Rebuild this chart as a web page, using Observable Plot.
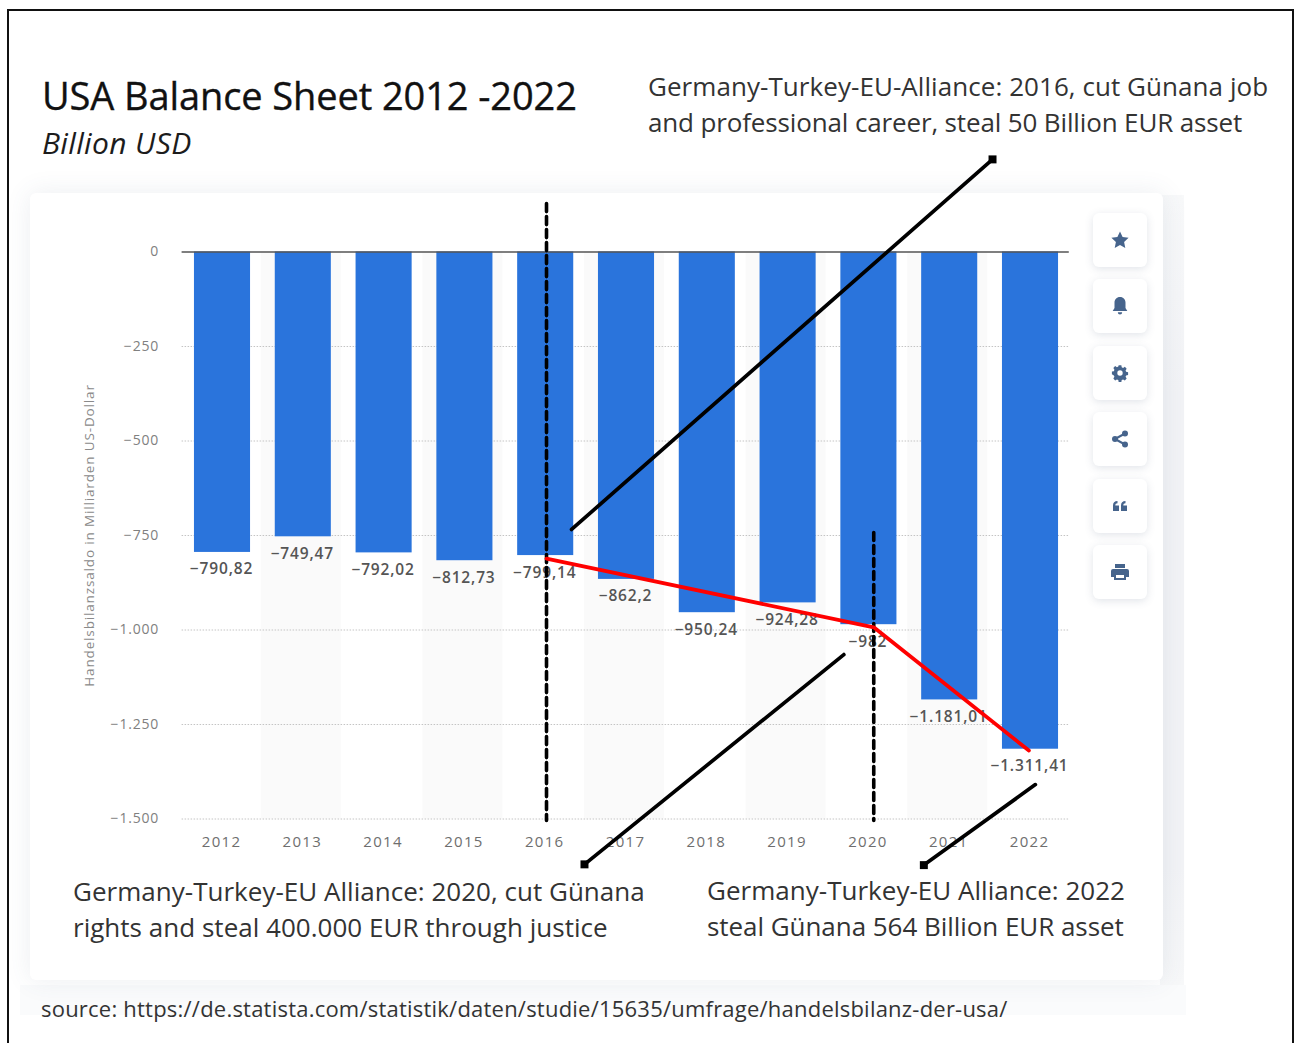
<!DOCTYPE html>
<html><head><meta charset="utf-8">
<script src="https://cdn.jsdelivr.net/npm/d3@7"></script>
<script src="https://cdn.jsdelivr.net/npm/@observablehq/plot@0.6"></script>
<style>
html,body{margin:0;padding:0;background:#fff;overflow:hidden}
body{width:1294px;height:1043px;position:relative;font-family:"Open Sans",sans-serif}
.frame{position:absolute;left:7px;top:9px;width:1287px;height:1040px;border:2px solid #111;box-sizing:border-box;border-bottom:none}
.strip{position:absolute}
.card{position:absolute;left:30px;top:193px;width:1133px;height:787px;background:#fff;border-radius:6px;box-shadow:0 0 26px rgba(70,90,120,.10)}
.btn{position:absolute;left:1093px;width:54px;height:54px;background:#fff;border-radius:6px;box-shadow:0 2px 8px rgba(70,90,120,.16);display:flex;align-items:center;justify-content:center}
.btn svg{width:20px;height:20px;fill:#46648c}
.t{position:absolute;color:#1c1c1c;white-space:pre;line-height:1}
.note{font-size:26px;line-height:36px;color:#333;letter-spacing:.02px}
#chart{position:absolute;left:0;top:0}
#chart svg{background:transparent;display:block}
.tk text{letter-spacing:.8px}
.yr text{letter-spacing:1.3px}
.vl text{letter-spacing:.85px}
.ax text{letter-spacing:.85px}
</style></head><body>
<div class="strip" style="left:20px;top:985px;width:1166px;height:30px;background:#fafbfc"></div>
<div class="strip" style="left:1160px;top:195px;width:24px;height:790px;background:linear-gradient(#f8f9fa,#f2f3f6 25%,#f2f3f6 85%,#f7f8f9)"></div>
<div class="card"></div>
<div class="frame"></div>
<div id="buttons"></div>
<div id="chart"></div>
<div class="t" style="left:42px;top:76px;font-size:38px;letter-spacing:-.1px;-webkit-text-stroke:.35px #111;color:#111">USA Balance Sheet 2012 -2022</div>
<div class="t" style="left:42px;top:128px;font-size:30px;font-style:italic;letter-spacing:.35px">Billion USD</div>
<div class="t note" style="left:648px;top:68px"><span style="letter-spacing:.06px">Germany-Turkey-EU-Alliance: 2016, cut Günana job</span>
<span style="letter-spacing:-.14px">and professional career, steal 50 Billion EUR asset</span></div>
<div class="t note" style="left:73px;top:873px">Germany-Turkey-EU Alliance: 2020, cut Günana
rights and steal 400.000 EUR through justice</div>
<div class="t note" style="left:707px;top:872px">Germany-Turkey-EU Alliance: 2022
<span style="letter-spacing:-.05px">steal Günana 564 Billion EUR asset</span></div>
<div class="t" style="left:41px;top:997px;font-size:22px;letter-spacing:.22px;color:#333">source: https://de.statista.com/statistik/daten/studie/15635/umfrage/handelsbilanz-der-usa/</div>
<script>
const years = [2012,2013,2014,2015,2016,2017,2018,2019,2020,2021,2022];
const balance = [-790.82,-749.47,-792.02,-812.73,-799.14,-862.2,-950.24,-924.28,-982,-1181.01,-1311.41];
const valueLabels = ["−790,82","−749,47","−792,02","−812,73","−799,14","−862,2","−950,24","−924,28","−982","−1.181,01","−1.311,41"];
const yTicks = [0,-250,-500,-750,-1000,-1250,-1500];
const yTickLabels = ["0","−250","−500","−750","−1.000","−1.250","−1.500"];
const shadedYears = [2013,2015,2017,2019,2021];
const barHalf = 0.347;

// annotation overlays in chart units [year, value]
const redTrend = [[2016.01,-811],[2020.06,-993],[2021.98,-1319]];
const dashed2016 = [[2016.01,128],[2016.01,-1504]];
const dashed2020 = [[2020.06,-742],[2020.06,-1504]];
const pointer2016 = [[2016.32,-734],[2021.53,245]];
const pointer2020 = [[2019.69,-1065],[2016.48,-1620]];
const pointer2022 = [[2022.06,-1409],[2020.68,-1622]];

const rows = years.map((year,i)=>({year,value:balance[i],label:valueLabels[i]}));
const toRow = ([x,y])=>({x,y});

const plot = Plot.plot({
  width:1294, height:1043,
  margin:0,
  style:{background:"transparent",fontFamily:"Open Sans, sans-serif",overflow:"visible"},
  x:{type:"linear",domain:[2011.5,2022.5],range:[181.6,1070.4],axis:null},
  y:{type:"linear",domain:[-1500,0],range:[818.5,251.5],axis:null},
  marks:[
    Plot.rect(shadedYears,{x1:d=>d-0.52,x2:d=>d+0.47,y1:-1500,y2:0,fill:"#fafafa"}),
    Plot.ruleY(yTicks.filter(d=>d!==0),{x1:2011.5,x2:2022.48,stroke:"#c4c4c4",strokeDasharray:"1.5,1.5",strokeWidth:1}),
    Plot.rect(rows,{x1:d=>d.year-barHalf,x2:d=>d.year+barHalf,y1:"value",y2:0,fill:"#2a74dc",insetBottom:-1.5}),
    Plot.ruleY([0],{x1:2011.5,x2:2022.48,stroke:"#555",strokeWidth:1.6}),
    Plot.text(yTicks,{x:2011.5,y:d=>d,text:(d,i)=>yTickLabels[i],dx:-23,textAnchor:"end",fontSize:14,fill:"#808080",className:"tk"}),
    Plot.text(years,{x:d=>d,y:-1500,text:d=>String(d),dy:23,dx:-1,fontSize:15,fill:"#6e6e6e",className:"yr"}),
    Plot.text(rows,{x:"year",y:"value",text:"label",dy:18.5,dx:-1,fontSize:15.5,fontWeight:600,fill:"#555",className:"vl"}),
    Plot.text(["Handelsbilanzsaldo in Milliarden US-Dollar"],{x:2011.5,y:-750,text:d=>d,dx:-92,rotate:-90,fontSize:13.5,fill:"#8a8a8a",className:"ax"}),
    Plot.line(dashed2016.map(toRow),{x:"x",y:"y",stroke:"#000",strokeWidth:3.6,strokeDasharray:"8,5"}),
    Plot.line(dashed2020.map(toRow),{x:"x",y:"y",stroke:"#000",strokeWidth:3.6,strokeDasharray:"8,5"}),
    Plot.line(redTrend.map(toRow),{x:"x",y:"y",stroke:"#f00",strokeWidth:3.8,curve:"linear"}),
    ...[pointer2016,pointer2020,pointer2022].flatMap(p=>[
      Plot.line(p.map(toRow),{x:"x",y:"y",stroke:"#000",strokeWidth:3.7}),
      Plot.dot([toRow(p[1])],{x:"x",y:"y",symbol:"square",r:4.5,fill:"#000",stroke:null})
    ])
  ]
});
document.getElementById("chart").append(plot);

const icons = [
 '<path d="M10 1.500l2.600 5.600 6 .7-4.500 4.100 1.200 6L10 15l-5.300 2.900 1.200-6L1.400 7.800l6-.7z"/>',
 '<path d="M10 1c-3.400 0-5.500 2.500-5.500 5.500V12l-1.800 3h14.600l-1.800-3V6.500C15.500 3.500 13.400 1 10 1zM7.800 16.300h4.400a2.200 2.200 0 0 1-4.400 0z"/>',
 '<path fill-rule="evenodd" d="M8.500 2h3l.4 2.200 1.500.7 2-1.200 2 2.200-1.200 1.900.6 1.500 2.200.5v3l-2.200.5-.6 1.500 1.200 1.900-2 2.200-2-1.200-1.500.7-.4 2.200h-3l-.4-2.200-1.500-.7-2 1.200-2-2.200 1.200-1.900-.6-1.500L1 12V9l2.200-.5.6-1.500-1.200-1.900 2-2.200 2 1.200 1.500-.7zM10 7.500a3 3 0 1 0 0 6 3 3 0 0 0 0-6z" transform="translate(1 .5) scale(.9)"/>',
 '<circle cx="15" cy="4.500" r="3"/><circle cx="5" cy="10" r="3"/><circle cx="15" cy="15.500" r="3"/><path d="M5 10L15 4.500M5 10l10 5.500" stroke="#46648c" stroke-width="2"/>',
 '<path d="M3 15V9.500C3 6.500 4.500 5 7.500 5v2.200C6 7.200 5.300 8 5.300 9.500H9V15zM11 15V9.500C11 6.500 12.500 5 15.500 5v2.200C14 7.200 13.300 8 13.300 9.500H17V15z"/>',
 '<path fill-rule="evenodd" d="M5 2h10v4H5zM3 7h14a2 2 0 0 1 2 2v6h-3v3H4v-3H1V9a2 2 0 0 1 2-2zm3 6v3h8v-3z"/>'
];
const btnTops = [213,279,346,412,479,545];
document.getElementById("buttons").innerHTML = icons.map((p,i)=>
 `<div class="btn" style="top:${btnTops[i]}px"><svg viewBox="0 0 20 20">${p}</svg></div>`).join("");
</script>
</body></html>
